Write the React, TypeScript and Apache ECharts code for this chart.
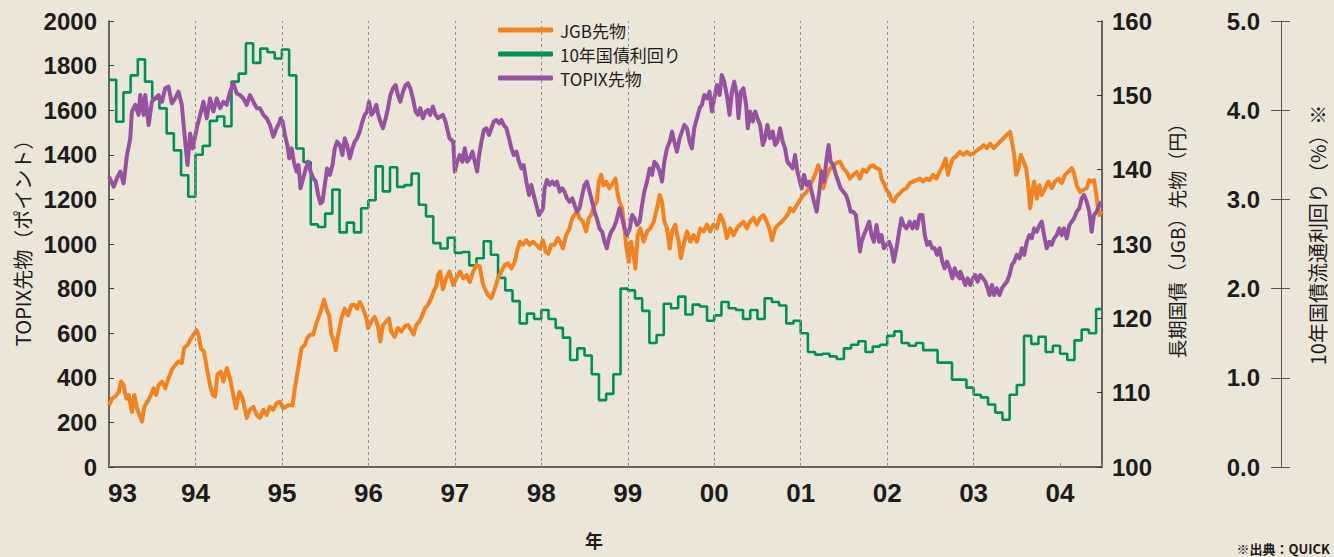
import React, { useEffect, useRef } from 'react';
import * as echarts from 'echarts';

// ---- data ----
const yearLines = [1994, 1995, 1996, 1997, 1998, 1999, 2000, 2001, 2002, 2003];
const yearMin = 1993;
const yearMax = 2004.485;

// TOPIX futures (points) [decimal year, value]
const topixFutures: [number, number][] = [
  [1993.000,1302],[1993.054,1257],[1993.092,1295],[1993.131,1325],[1993.169,1272],[1993.208,1399],[1993.246,1474],[1993.265,1594],[1993.304,1624],[1993.342,1579],[1993.362,1668],[1993.400,1579],[1993.419,1668],[1993.458,1534],[1993.496,1638],[1993.535,1653],[1993.573,1668],[1993.612,1638],[1993.650,1698],[1993.688,1706],[1993.727,1631],[1993.765,1653],[1993.804,1683],[1993.842,1624],[1993.881,1459],[1993.908,1354],[1993.938,1496],[1993.969,1429],[1994.015,1519],[1994.054,1579],[1994.092,1638],[1994.131,1564],[1994.169,1653],[1994.208,1594],[1994.246,1653],[1994.285,1609],[1994.323,1638],[1994.362,1624],[1994.400,1683],[1994.438,1721],[1994.477,1675],[1994.515,1668],[1994.554,1653],[1994.592,1624],[1994.631,1668],[1994.669,1638],[1994.708,1609],[1994.746,1609],[1994.785,1579],[1994.823,1564],[1994.862,1534],[1994.900,1481],[1994.938,1519],[1994.977,1549],
  [1994.985,1564],[1995.008,1549],[1995.035,1489],[1995.062,1444],[1995.085,1384],[1995.112,1429],[1995.138,1369],[1995.169,1325],[1995.192,1354],[1995.215,1250],[1995.246,1295],[1995.277,1339],[1995.304,1369],[1995.331,1325],[1995.362,1295],[1995.392,1280],[1995.419,1220],[1995.446,1182],[1995.469,1190],[1995.496,1265],[1995.523,1339],[1995.554,1310],[1995.585,1354],[1995.612,1429],[1995.638,1459],[1995.669,1444],[1995.700,1399],[1995.727,1474],[1995.754,1444],[1995.785,1384],[1995.815,1429],[1995.842,1459],[1995.869,1474],[1995.900,1504],[1995.931,1549],[1995.958,1579],[1995.985,1594],[1996.008,1638],[1996.035,1579],[1996.062,1594],[1996.092,1624],[1996.115,1579],[1996.138,1549],[1996.169,1519],[1996.200,1564],[1996.227,1609],[1996.254,1668],[1996.285,1698],[1996.315,1713],[1996.342,1668],[1996.369,1638],[1996.400,1683],[1996.431,1713],[1996.458,1721],[1996.485,1698],[1996.515,1653],[1996.546,1594],[1996.573,1579],[1996.600,1609],[1996.631,1564],[1996.662,1594],[1996.688,1601],[1996.715,1579],[1996.746,1616],[1996.777,1579],[1996.804,1564],[1996.831,1571],[1996.862,1579],[1996.892,1549],[1996.919,1504],[1996.938,1474],
  [1996.981,1459],[1997.000,1325],[1997.027,1369],[1997.058,1399],[1997.088,1369],[1997.115,1429],[1997.142,1369],[1997.173,1384],[1997.204,1414],[1997.231,1369],[1997.258,1325],[1997.281,1399],[1997.308,1459],[1997.335,1511],[1997.365,1519],[1997.396,1489],[1997.423,1519],[1997.450,1549],[1997.481,1556],[1997.512,1541],[1997.538,1556],[1997.565,1534],[1997.596,1519],[1997.627,1474],[1997.654,1429],[1997.681,1399],[1997.712,1414],[1997.742,1369],[1997.769,1339],[1997.796,1354],[1997.827,1280],[1997.858,1220],[1997.885,1265],[1997.912,1220],[1997.942,1175],[1997.973,1130],[1998.000,1145],[1998.019,1160],[1998.038,1250],[1998.065,1287],[1998.096,1265],[1998.127,1280],[1998.154,1265],[1998.181,1280],[1998.212,1235],[1998.242,1250],[1998.269,1235],[1998.296,1205],[1998.327,1190],[1998.358,1205],[1998.385,1175],[1998.412,1145],[1998.442,1160],[1998.473,1220],[1998.500,1265],[1998.527,1280],[1998.558,1235],[1998.588,1190],[1998.615,1145],[1998.642,1115],[1998.673,1070],[1998.704,1055],[1998.731,1010],[1998.758,981],[1998.781,1025],[1998.808,1055],[1998.835,1070],[1998.865,1100],[1998.904,1160],
  [1998.935,1115],[1998.962,1070],[1998.992,1040],[1999.023,1070],[1999.050,1130],[1999.077,1115],[1999.108,1085],[1999.138,1100],[1999.165,1175],[1999.192,1235],[1999.223,1280],[1999.254,1339],[1999.281,1310],[1999.308,1369],[1999.338,1354],[1999.369,1325],[1999.396,1280],[1999.423,1369],[1999.454,1429],[1999.485,1459],[1999.512,1504],[1999.538,1459],[1999.569,1414],[1999.600,1474],[1999.627,1504],[1999.654,1534],[1999.685,1519],[1999.715,1459],[1999.742,1429],[1999.769,1519],[1999.800,1564],[1999.831,1609],[1999.858,1624],[1999.885,1668],[1999.915,1653],[1999.946,1683],[1999.973,1594],[2000.000,1653],[2000.031,1713],[2000.062,1668],[2000.088,1758],[2000.115,1728],[2000.146,1668],[2000.177,1579],[2000.204,1683],[2000.231,1728],[2000.262,1668],[2000.281,1564],[2000.308,1683],[2000.338,1698],[2000.369,1624],[2000.388,1519],[2000.415,1594],[2000.446,1549],[2000.473,1594],[2000.500,1564],[2000.531,1534],[2000.562,1444],[2000.588,1474],[2000.615,1534],[2000.646,1474],[2000.677,1504],[2000.704,1444],[2000.731,1459],[2000.762,1519],[2000.792,1459],[2000.819,1429],[2000.846,1369],[2000.877,1354],
  [2000.908,1339],[2000.935,1399],[2000.962,1325],[2000.992,1280],[2001.012,1250],[2001.038,1310],[2001.069,1265],[2001.100,1280],[2001.127,1235],[2001.154,1190],[2001.185,1145],[2001.215,1235],[2001.242,1325],[2001.269,1280],[2001.300,1384],[2001.323,1444],[2001.346,1369],[2001.377,1354],[2001.408,1310],[2001.435,1280],[2001.462,1250],[2001.492,1235],[2001.523,1220],[2001.550,1190],[2001.577,1145],[2001.608,1145],[2001.638,1130],[2001.665,1040],[2001.685,966],[2001.704,1010],[2001.731,1040],[2001.762,1070],[2001.792,1100],[2001.819,1040],[2001.846,1010],[2001.877,1085],[2001.908,1010],[2001.935,1040],[2001.962,981],[2001.992,996],[2002.023,1010],[2002.050,981],[2002.077,921],[2002.108,981],[2002.138,1055],[2002.165,1115],[2002.192,1085],[2002.223,1070],[2002.262,1100],[2002.292,1070],[2002.319,1100],[2002.346,1070],[2002.377,1130],[2002.408,1130],[2002.435,1040],[2002.462,996],[2002.492,1010],[2002.523,981],[2002.550,981],[2002.577,951],[2002.608,981],[2002.638,921],[2002.665,891],[2002.692,921],[2002.723,891],[2002.754,846],[2002.781,891],[2002.808,861],[2002.838,846],
  [2002.846,876],[2002.877,846],[2002.904,816],[2002.931,846],[2002.962,816],[2002.992,846],[2003.019,861],[2003.046,831],[2003.077,861],[2003.108,846],[2003.135,831],[2003.162,801],[2003.185,771],[2003.212,816],[2003.238,771],[2003.269,801],[2003.300,771],[2003.327,801],[2003.354,816],[2003.385,831],[2003.415,861],[2003.442,906],[2003.469,921],[2003.500,951],[2003.531,936],[2003.558,981],[2003.585,951],[2003.615,1010],[2003.646,1040],[2003.673,1025],[2003.700,1070],[2003.731,1055],[2003.762,1085],[2003.788,1100],[2003.815,1040],[2003.846,981],[2003.877,1010],[2003.904,996],[2003.931,1025],[2003.962,1040],[2003.992,1070],[2004.019,1040],[2004.046,1070],[2004.077,1025],[2004.108,1085],[2004.135,1100],[2004.162,1115],[2004.192,1145],[2004.223,1160],[2004.250,1205],[2004.277,1220],[2004.308,1190],[2004.338,1145],[2004.365,1055],[2004.392,1130],[2004.423,1145],[2004.454,1175],[2004.480,1190],
];

// JGB futures (yen) [decimal year, value]
const jgbFutures: [number, number][] = [
  [1993.000,108.3],[1993.035,109.2],[1993.073,109.5],[1993.112,110.1],[1993.138,111.5],[1993.169,111.0],[1993.200,109.2],[1993.227,109.7],[1993.265,107.4],[1993.292,109.7],[1993.323,107.9],[1993.354,107.0],[1993.381,106.1],[1993.408,108.1],[1993.446,108.8],[1993.485,109.7],[1993.515,110.6],[1993.546,109.7],[1993.573,111.0],[1993.612,111.5],[1993.650,110.6],[1993.688,111.9],[1993.727,113.1],[1993.765,113.7],[1993.804,114.2],[1993.842,114.0],[1993.869,116.0],[1993.908,116.4],[1993.938,117.1],[1993.977,117.8],[1994.015,118.4],[1994.035,117.8],[1994.062,116.0],[1994.100,115.5],[1994.131,113.3],[1994.169,111.0],[1994.200,109.7],[1994.227,109.5],[1994.254,112.4],[1994.292,112.8],[1994.323,111.5],[1994.362,113.3],[1994.400,111.9],[1994.438,109.7],[1994.469,107.9],[1994.508,110.1],[1994.546,109.2],[1994.592,106.6],[1994.631,107.7],[1994.669,108.1],[1994.708,107.0],[1994.746,106.6],[1994.785,107.7],[1994.823,107.0],[1994.862,108.1],[1994.900,107.7],[1994.938,108.6],[1994.977,108.8],
  [1995.015,107.9],[1995.073,108.3],[1995.123,108.3],[1995.150,110.6],[1995.188,113.3],[1995.227,116.0],[1995.265,116.4],[1995.292,117.3],[1995.323,117.8],[1995.362,117.8],[1995.392,119.1],[1995.419,120.0],[1995.458,121.3],[1995.485,122.5],[1995.515,121.3],[1995.546,120.4],[1995.573,117.8],[1995.600,116.9],[1995.623,115.7],[1995.650,117.8],[1995.688,120.0],[1995.727,121.3],[1995.765,120.4],[1995.804,121.8],[1995.842,121.8],[1995.869,121.3],[1995.900,122.2],[1995.938,121.3],[1995.977,120.0],[1995.996,118.7],[1996.035,119.6],[1996.073,120.2],[1996.112,118.9],[1996.138,116.9],[1996.169,119.1],[1996.208,119.6],[1996.238,120.0],[1996.265,118.2],[1996.304,117.5],[1996.342,118.7],[1996.381,118.2],[1996.419,118.9],[1996.458,119.1],[1996.496,118.4],[1996.523,117.8],[1996.554,119.1],[1996.592,119.6],[1996.623,120.4],[1996.650,121.3],[1996.688,121.8],[1996.727,122.7],[1996.754,123.6],[1996.785,124.3],[1996.804,125.8],[1996.831,126.3],[1996.862,123.9],[1996.900,125.4],[1996.938,126.3],
  [1996.981,124.5],[1997.019,125.4],[1997.058,126.3],[1997.096,125.4],[1997.135,125.8],[1997.173,124.9],[1997.212,126.3],[1997.250,127.2],[1997.288,127.0],[1997.319,124.9],[1997.346,124.0],[1997.385,123.1],[1997.423,122.7],[1997.462,124.0],[1997.500,125.4],[1997.538,126.3],[1997.577,127.2],[1997.615,127.4],[1997.654,126.7],[1997.692,127.6],[1997.719,129.0],[1997.750,130.3],[1997.788,129.9],[1997.827,130.5],[1997.865,129.9],[1997.904,130.3],[1997.942,129.9],[1997.981,129.4],[1998.019,130.5],[1998.050,129.0],[1998.081,128.7],[1998.115,129.9],[1998.154,129.9],[1998.192,130.8],[1998.219,130.3],[1998.250,129.4],[1998.288,131.2],[1998.327,132.1],[1998.358,133.5],[1998.385,133.9],[1998.412,134.4],[1998.442,133.5],[1998.481,133.0],[1998.519,131.7],[1998.550,133.5],[1998.577,133.9],[1998.615,135.2],[1998.642,135.7],[1998.665,138.4],[1998.692,139.3],[1998.719,137.9],[1998.750,138.4],[1998.788,137.5],[1998.827,138.2],[1998.858,138.8],[1998.885,136.6],[1998.904,135.7],
  [1998.935,134.8],[1998.962,132.1],[1998.985,129.4],[1999.012,127.6],[1999.038,130.3],[1999.069,128.5],[1999.088,126.7],[1999.115,131.2],[1999.146,132.1],[1999.185,130.3],[1999.223,131.7],[1999.262,132.1],[1999.300,133.0],[1999.338,134.8],[1999.369,136.6],[1999.396,135.7],[1999.423,133.0],[1999.454,132.1],[1999.485,129.4],[1999.512,131.7],[1999.550,132.6],[1999.588,130.3],[1999.615,128.1],[1999.646,129.9],[1999.685,131.7],[1999.723,130.3],[1999.762,131.2],[1999.800,130.3],[1999.838,132.1],[1999.877,131.7],[1999.915,132.6],[1999.954,131.7],[1999.992,132.6],[2000.031,132.1],[2000.069,133.9],[2000.108,133.0],[2000.146,130.8],[2000.185,132.1],[2000.223,131.2],[2000.262,132.1],[2000.300,132.6],[2000.338,133.0],[2000.377,132.1],[2000.415,133.0],[2000.454,133.5],[2000.492,132.6],[2000.531,133.5],[2000.569,133.9],[2000.608,133.0],[2000.638,132.1],[2000.669,130.5],[2000.704,132.1],[2000.742,132.6],[2000.781,133.0],[2000.819,133.5],[2000.858,134.1],[2000.877,134.8],
  [2000.915,134.4],[2000.954,135.2],[2000.992,135.9],[2001.031,136.6],[2001.069,137.0],[2001.108,137.9],[2001.146,138.8],[2001.177,139.7],[2001.204,140.6],[2001.231,139.7],[2001.262,137.5],[2001.292,138.8],[2001.319,139.7],[2001.346,140.2],[2001.377,140.6],[2001.415,140.9],[2001.454,141.1],[2001.492,140.2],[2001.531,139.7],[2001.569,138.8],[2001.608,139.3],[2001.646,139.7],[2001.685,138.8],[2001.723,140.0],[2001.762,139.7],[2001.800,140.4],[2001.838,140.6],[2001.877,140.2],[2001.915,140.0],[2001.935,138.8],[2001.962,138.2],[2001.992,137.3],[2002.023,136.8],[2002.050,135.9],[2002.077,135.7],[2002.108,136.4],[2002.146,136.8],[2002.185,137.3],[2002.223,137.5],[2002.262,138.2],[2002.300,138.4],[2002.338,138.6],[2002.377,138.8],[2002.415,138.4],[2002.454,138.8],[2002.492,138.6],[2002.531,139.3],[2002.569,138.8],[2002.608,139.7],[2002.646,140.6],[2002.677,141.5],[2002.704,139.3],[2002.731,140.6],[2002.762,141.5],[2002.800,141.8],[2002.838,142.4],
  [2002.885,142.0],[2002.923,142.4],[2002.962,142.0],[2003.000,142.2],[2003.038,142.6],[2003.077,142.9],[2003.115,143.3],[2003.154,142.9],[2003.192,143.5],[2003.231,142.9],[2003.269,143.3],[2003.308,143.8],[2003.346,144.2],[2003.385,144.7],[2003.423,145.1],[2003.442,143.8],[2003.469,142.0],[2003.492,139.3],[2003.519,140.2],[2003.546,142.0],[2003.577,141.1],[2003.608,140.2],[2003.635,137.5],[2003.654,134.8],[2003.673,136.6],[2003.700,138.4],[2003.731,136.1],[2003.762,137.9],[2003.788,136.6],[2003.827,137.5],[2003.865,138.4],[2003.904,137.5],[2003.942,138.4],[2003.981,138.8],[2004.019,138.2],[2004.058,139.3],[2004.096,139.7],[2004.135,140.2],[2004.162,139.5],[2004.192,137.9],[2004.231,137.0],[2004.269,137.3],[2004.308,137.5],[2004.338,138.6],[2004.365,138.4],[2004.392,138.6],[2004.415,137.0],[2004.435,135.2],[2004.454,133.9],[2004.480,134.4],
];

// 10-year JGB yield (%), monthly from Jan 1993
const yieldStartYear = 1993;
const yield10y: number[] = [
  4.34, 3.87, 4.20, 4.39, 4.57, 4.32, 4.13, 4.02, 3.74, 3.55, 3.27, 3.03,
  3.50, 3.60, 3.88, 3.93, 3.82, 4.32, 4.41, 4.75, 4.53, 4.69, 4.65, 4.58,
  4.68, 4.39, 3.57, 3.42, 2.72, 2.69, 2.84, 3.11, 2.63, 2.74, 2.63, 2.90,
  2.99, 3.37, 3.09, 3.36, 3.14, 3.16, 3.29, 2.94, 2.81, 2.51, 2.45, 2.57,
  2.40, 2.41, 2.26, 2.34, 2.53, 2.38, 2.12, 1.98, 1.86, 1.61, 1.72, 1.66,
  1.76, 1.66, 1.56, 1.45, 1.20, 1.33, 1.25, 1.04, 0.75, 0.82, 1.04, 2.00,
  1.98, 1.89, 1.75, 1.39, 1.48, 1.83, 1.78, 1.91, 1.71, 1.82, 1.80, 1.64,
  1.70, 1.85, 1.78, 1.76, 1.66, 1.76, 1.66, 1.89, 1.85, 1.81, 1.61, 1.64,
  1.50, 1.29, 1.26, 1.27, 1.24, 1.21, 1.33, 1.37, 1.41, 1.29, 1.35, 1.37,
  1.47, 1.52, 1.39, 1.36, 1.39, 1.31, 1.31, 1.17, 1.17, 0.98, 0.98, 0.89,
  0.81, 0.78, 0.70, 0.61, 0.53, 0.81, 0.92, 1.47, 1.38, 1.46, 1.29, 1.36,
  1.27, 1.20, 1.42, 1.54, 1.50, 1.77,
];

const seriesNames = ['JGB先物', '10年国債利回り', 'TOPIX先物'];
const seriesColors = ['#f4821f', '#00905a', '#9652a0'];

const NUM_FONT = "'Liberation Sans', Arial, sans-serif";
const JP_FONT = "'Noto Sans CJK JP', 'Noto Sans', sans-serif";
const TEXT_COLOR = '#1c1c1c';
const AXIS_COLOR = '#3a3a3a';

export default function App() {
  const ref = useRef<HTMLDivElement>(null);

  useEffect(() => {
    if (!ref.current) return;
    const chart = echarts.init(ref.current, undefined, { renderer: 'svg' });

    const yieldData: [number, number][] = yield10y.map((v, i) => [yieldStartYear + i / 12, v]);
    yieldData.push([yearMax, yield10y[yield10y.length - 1]]);

    const yLabel = {
      color: TEXT_COLOR,
      fontFamily: NUM_FONT,
      fontWeight: 'bold' as const,
      fontSize: 24,
    };

    chart.setOption({
      animation: false,
      backgroundColor: '#ece6d8',
      grid: { left: 109, right: 232, top: 21, bottom: 90, containLabel: false },
      legend: {
        orient: 'vertical',
        left: 493,
        top: 15,
        itemWidth: 55,
        itemHeight: 5,
        itemGap: 4,
        icon: 'roundRect',
        data: seriesNames,
        textStyle: { color: TEXT_COLOR, fontFamily: JP_FONT, fontSize: 17, lineHeight: 20, padding: [0, 0, 0, 2] },
      },
      xAxis: {
        type: 'value',
        min: yearMin,
        max: yearMax,
        interval: 1,
        axisLine: { show: true, lineStyle: { color: AXIS_COLOR, width: 1.5 } },
        axisTick: { show: true, inside: true, length: 4, lineStyle: { color: '#888' } },
        splitLine: { show: false },
        axisLabel: {
          margin: 13,
          color: TEXT_COLOR,
          fontFamily: NUM_FONT,
          fontWeight: 'bold',
          fontSize: 26,
          formatter: (v: number) => {
            if (Math.abs(v - Math.round(v)) > 1e-6) return '';
            const s = String(Math.round(v)).slice(2);
            return Math.round(v) === yearMin ? '{first|' + s + '}' : s;
          },
          rich: {
            first: {
              padding: [0, 0, 0, 27],
              color: TEXT_COLOR,
              fontFamily: NUM_FONT,
              fontWeight: 'bold',
              fontSize: 26,
            },
          },
        },
      },
      yAxis: [
        {
          type: 'value',
          position: 'left',
          min: 0,
          max: 2000,
          interval: 200,
          axisLine: { show: true, lineStyle: { color: AXIS_COLOR, width: 1.5 } },
          axisTick: { show: true, inside: true, length: 5, lineStyle: { color: AXIS_COLOR } },
          splitLine: { show: false },
          axisLabel: { ...yLabel, margin: 12, formatter: (v: number) => String(v) },
        },
        {
          type: 'value',
          position: 'right',
          min: 100,
          max: 160,
          interval: 10,
          axisLine: { show: true, lineStyle: { color: AXIS_COLOR, width: 1.5 } },
          axisTick: { show: true, inside: true, length: 5, lineStyle: { color: AXIS_COLOR } },
          splitLine: { show: false },
          axisLabel: { ...yLabel, margin: 10, formatter: (v: number) => String(v) },
        },
        {
          type: 'value',
          position: 'right',
          offset: 179,
          min: 0,
          max: 5,
          interval: 1,
          axisLine: { show: true, lineStyle: { color: '#555', width: 1 } },
          axisTick: { show: true, inside: false, length: 9, lineStyle: { color: '#555' } },
          splitLine: { show: false },
          axisLabel: { ...yLabel, inside: true, margin: 21, formatter: (v: number) => v.toFixed(1) },
        },
        {
          type: 'value',
          position: 'right',
          offset: 179,
          min: 0,
          max: 5,
          interval: 1,
          axisLine: { show: false },
          axisTick: { show: true, inside: true, length: 10, lineStyle: { color: '#555' } },
          splitLine: { show: false },
          axisLabel: { show: false },
        },
      ],
      series: [
        {
          name: seriesNames[1],
          type: 'line',
          yAxisIndex: 2,
          step: 'end',
          showSymbol: false,
          symbol: 'none',
          color: seriesColors[1],
          lineStyle: { width: 2.6, color: seriesColors[1] },
          data: yieldData,
          markLine: {
            silent: true,
            symbol: ['none', 'none'],
            label: { show: false },
            lineStyle: { type: [3, 3], color: '#8f8f8f', width: 1 },
            data: yearLines.map((y) => ({ xAxis: y })),
          },
          z: 2,
        },
        {
          name: seriesNames[0],
          type: 'line',
          yAxisIndex: 1,
          showSymbol: false,
          symbol: 'none',
          color: seriesColors[0],
          lineStyle: { width: 4, color: seriesColors[0], join: 'round' },
          data: jgbFutures,
          z: 3,
        },
        {
          name: seriesNames[2],
          type: 'line',
          yAxisIndex: 0,
          showSymbol: false,
          symbol: 'none',
          color: seriesColors[2],
          lineStyle: { width: 4, color: seriesColors[2], join: 'round' },
          data: topixFutures,
          z: 4,
        },
      ],
      graphic: [
        {
          type: 'text',
          x: 22,
          y: 238,
          rotation: Math.PI / 2,
          style: { text: 'TOPIX先物（ポイント）', fontFamily: JP_FONT, fontSize: 20, fill: TEXT_COLOR, align: 'center', verticalAlign: 'middle' },
        },
        {
          type: 'text',
          x: 1176,
          y: 236,
          rotation: Math.PI / 2,
          style: { text: '長期国債（JGB）先物（円）', fontFamily: JP_FONT, fontSize: 19, fill: TEXT_COLOR, align: 'center', verticalAlign: 'middle' },
        },
        {
          type: 'text',
          x: 1317,
          y: 235,
          rotation: Math.PI / 2,
          style: { text: '10年国債流通利回り（%）※', fontFamily: JP_FONT, fontSize: 20, fill: TEXT_COLOR, align: 'center', verticalAlign: 'middle' },
        },
        {
          type: 'text',
          x: 594,
          y: 540,
          style: { text: '年', fontFamily: JP_FONT, fontSize: 18, fontWeight: 'bold', fill: TEXT_COLOR, align: 'center', verticalAlign: 'middle' },
        },
        {
          type: 'text',
          x: 1330,
          y: 548,
          style: { text: '※出典：QUICK', fontFamily: JP_FONT, fontSize: 13, fontWeight: 'bold', fill: TEXT_COLOR, align: 'right', verticalAlign: 'middle' },
        },
      ],
    });

    return () => chart.dispose();
  }, []);

  return (
    <div
      ref={ref}
      style={{ position: 'fixed', left: 0, top: 0, width: 1334, height: 557, background: '#ece6d8' }}
    />
  );
}
